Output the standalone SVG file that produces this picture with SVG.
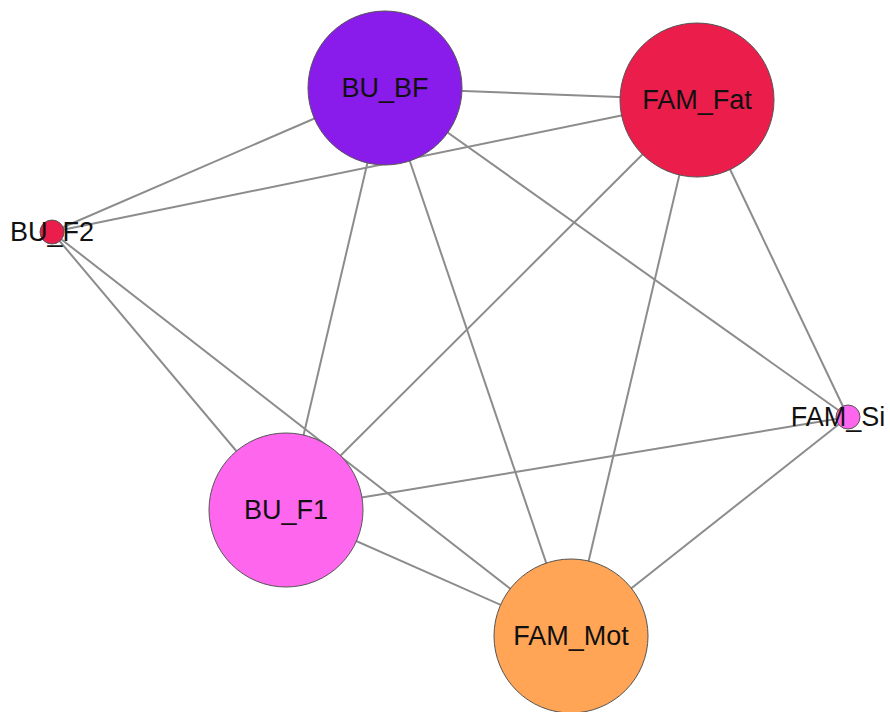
<svg xmlns="http://www.w3.org/2000/svg" width="890" height="712" viewBox="0 0 890 712">
<style>
.e{stroke:#8c8c8c;stroke-width:2;fill:none}
.n{stroke:#555;stroke-width:1}
.t{font-family:"Liberation Sans",Arial,sans-serif;font-size:27px;fill:#111;text-anchor:middle}
</style>
<rect width="890" height="712" fill="#fff"/>
<g id="edges">
<line class="e" x1="385" y1="88" x2="697" y2="100"/>
<line class="e" x1="385" y1="88" x2="52" y2="232"/>
<line class="e" x1="697" y1="100" x2="52" y2="232"/>
<line class="e" x1="52" y1="232" x2="286" y2="510"/>
<line class="e" x1="52" y1="232" x2="571" y2="636"/>
<line class="e" x1="385" y1="88" x2="286" y2="510"/>
<line class="e" x1="385" y1="88" x2="571" y2="636"/>
<line class="e" x1="385" y1="88" x2="848" y2="417"/>
<line class="e" x1="697" y1="100" x2="286" y2="510"/>
<line class="e" x1="697" y1="100" x2="571" y2="636"/>
<line class="e" x1="697" y1="100" x2="848" y2="417"/>
<line class="e" x1="848" y1="417" x2="286" y2="510"/>
<line class="e" x1="848" y1="417" x2="571" y2="636"/>
<line class="e" x1="286" y1="510" x2="571" y2="636"/>
</g>
<g id="BU_BF"><circle class="n" cx="385" cy="88" r="77" fill="#8a1ceb"/><text class="t" x="385" y="97">BU_BF</text></g>
<g id="FAM_Fat"><circle class="n" cx="697" cy="100" r="77" fill="#eb1d4b"/><text class="t" x="697" y="109">FAM_Fat</text></g>
<g id="BU_F2"><circle class="n" cx="52" cy="232" r="12" fill="#eb1d4b"/><text class="t" x="52" y="241">BU_F2</text></g>
<g id="FAM_Si"><circle class="n" cx="848" cy="417" r="12" fill="#ff66ee"/><text class="t" x="838" y="426">FAM_Si</text></g>
<g id="BU_F1"><circle class="n" cx="286" cy="510" r="77" fill="#ff66ee"/><text class="t" x="286" y="519">BU_F1</text></g>
<g id="FAM_Mot"><circle class="n" cx="571" cy="636" r="77" fill="#ffa555"/><text class="t" x="571" y="645">FAM_Mot</text></g>
</svg>
